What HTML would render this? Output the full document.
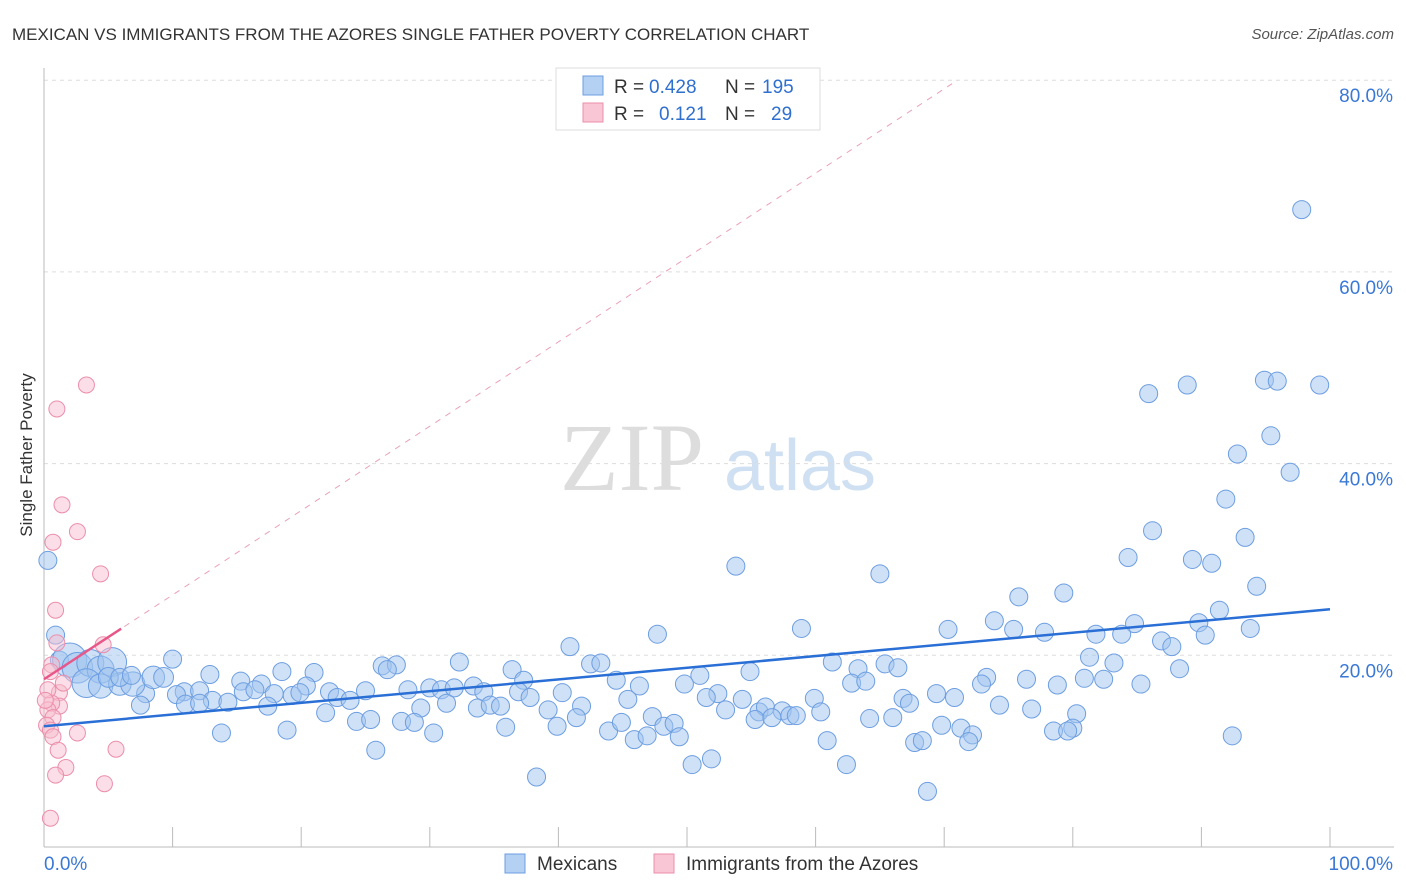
<!DOCTYPE html>
<html><head><meta charset="utf-8"><style>
body{margin:0;background:#fff;font-family:"Liberation Sans",sans-serif}
svg{display:block}
</style></head><body>
<svg id="chart" width="1406" height="892" xmlns="http://www.w3.org/2000/svg">
<text x="12" y="40" font-size="17" fill="#333">MEXICAN VS IMMIGRANTS FROM THE AZORES SINGLE FATHER POVERTY CORRELATION CHART</text>
<text x="1394" y="39" font-size="15" fill="#555" font-style="italic" text-anchor="end">Source: ZipAtlas.com</text>
<text x="32" y="455" font-size="17" fill="#333" text-anchor="middle" transform="rotate(-90 32 455)">Single Father Poverty</text>
<g>
<text x="632" y="490" font-size="96" fill="#ddd" font-family="Liberation Serif,serif" text-anchor="middle">ZIP</text>
<text x="800" y="490" font-size="72" fill="#cfe0f3" text-anchor="middle">atlas</text>
</g>
<g id="grid"></g>
<g id="pts"></g>
<g id="lines"></g>
<g>
<rect x="556" y="68" width="264" height="62" fill="#fff" stroke="#ddd"/>
<rect x="583" y="76" width="20" height="19" fill="#b4d0f3" stroke="#6d9ee0"/>
<rect x="583" y="103" width="20" height="19" fill="#f8c6d4" stroke="#ec8eab"/>
<text x="614" y="93" font-size="19" fill="#333">R =</text>
<text x="649" y="93" font-size="19" fill="#2f6fd0">0.428</text>
<text x="725" y="93" font-size="19" fill="#333">N =</text>
<text x="762" y="93" font-size="19" fill="#2f6fd0">195</text>
<text x="614" y="120" font-size="19" fill="#333">R =</text>
<text x="659" y="120" font-size="19" fill="#2f6fd0">0.121</text>
<text x="725" y="120" font-size="19" fill="#333">N =</text>
<text x="771" y="120" font-size="19" fill="#2f6fd0">29</text>
</g>
<g>
<rect x="505" y="854" width="20" height="19" fill="#b4d0f3" stroke="#6d9ee0"/>
<text x="537" y="870" font-size="19" fill="#333">Mexicans</text>
<rect x="654" y="854" width="20" height="19" fill="#f8c6d4" stroke="#ec8eab"/>
<text x="686" y="870" font-size="19" fill="#333">Immigrants from the Azores</text>
</g>
</svg>
<script>
const blueX=[97.8,85.9,88.9,94.9,95.9,99.2,95.4,92.8,96.9,91.9,93.4,86.2,84.3,89.3,90.8,94.3,65.0,53.8,79.3,75.8,91.4,73.9,70.3,84.8,89.8,93.8,58.9,47.7,77.8,81.8,83.8,75.4,86.9,87.7,90.3,40.9,81.3,83.2,88.3,61.3,63.3,65.4,66.4,32.3,26.3,27.4,26.7,42.5,43.3,36.4,10.0,12.9,18.5,21.0,37.3,44.5,51.0,54.9,76.4,80.9,82.4,73.3,72.9,62.8,63.9,78.8,85.3,46.3,49.8,20.4,15.3,16.9,28.3,30.0,30.9,31.9,33.4,34.2,36.9,37.8,40.3,45.4,52.4,54.3,51.5,59.9,66.8,69.4,70.8,15.5,16.4,17.9,19.3,19.9,22.2,22.8,23.8,25.0,10.9,12.1,10.3,13.1,14.3,11.0,12.1,7.9,7.5,17.4,21.9,29.3,31.3,33.7,34.7,35.5,39.2,41.8,53.0,55.6,56.1,57.4,58.0,58.5,60.4,67.3,74.3,76.8,80.3,80.0,13.8,18.9,24.3,25.4,27.8,28.8,35.9,39.9,41.4,43.9,44.9,47.3,48.2,49.0,55.3,56.6,64.2,66.0,69.8,71.3,72.2,78.5,79.6,92.4,30.3,45.9,46.9,49.4,60.9,67.7,68.3,71.9,25.8,51.9,50.4,62.4,38.3,68.7,0.3,0.9,1.2,2.0,2.6,3.6,4.4,5.3,3.3,4.4,5.9,6.9,8.5,9.3,5.0,5.9,6.8];
const blueY=[66.5,47.3,48.2,48.7,48.6,48.2,42.9,41.0,39.1,36.3,32.3,33.0,30.2,30.0,29.6,27.2,28.5,29.3,26.5,26.1,24.7,23.6,22.7,23.3,23.4,22.8,22.8,22.2,22.4,22.2,22.2,22.7,21.5,20.9,22.1,20.9,19.8,19.2,18.6,19.3,18.6,19.1,18.7,19.3,18.9,19.0,18.5,19.1,19.2,18.5,19.6,18.0,18.3,18.2,17.4,17.4,17.9,18.3,17.5,17.6,17.5,17.7,17.0,17.1,17.3,16.9,17.0,16.8,17.0,16.8,17.3,17.0,16.4,16.6,16.4,16.6,16.8,16.2,16.2,15.6,16.1,15.4,16.0,15.4,15.6,15.5,15.5,16.0,15.6,16.2,16.4,16.0,15.8,16.1,16.2,15.6,15.3,16.3,16.2,16.3,15.9,15.3,15.1,14.9,15.0,16.0,14.8,14.7,14.0,14.5,15.0,14.5,14.8,14.7,14.3,14.7,14.3,14.1,14.6,14.2,13.7,13.7,14.1,15.0,14.8,14.4,13.9,12.4,11.9,12.2,13.1,13.3,13.1,13.0,12.5,12.6,13.5,12.1,13.0,13.6,12.6,12.9,13.3,13.5,13.4,13.5,12.7,12.4,11.7,12.1,12.1,11.6,11.9,11.2,11.6,11.5,11.1,10.9,11.1,11.0,10.1,9.2,8.6,8.6,7.3,5.8,29.9,22.1,19.5,19.5,18.7,19.2,18.5,19.3,17.1,16.8,17.0,17.0,17.7,17.7,17.7,17.7,17.9];
const bigIdx=[169,170,171,172,173,174,175,176,177,178,179,180];
const bigSize=[1.9,1.7,1.5,1.5,1.6,1.6,1.35,1.25,1.35,1.25,1.1,1.1];
const pinkX=[3.3,1.0,1.4,2.6,0.7,4.4,0.9,4.6,1.0,0.6,0.5,1.2,1.2,0.6,0.3,0.7,0.2,0.5,2.6,0.7,1.1,5.6,1.7,0.9,4.7,0.5,0.3,0.1,1.5];
const pinkY=[48.2,45.7,35.7,32.9,31.8,28.5,24.7,21.1,21.3,19.0,18.3,16.1,14.7,15.0,14.3,13.5,12.7,12.2,11.9,11.5,10.1,10.2,8.3,7.5,6.6,3.0,16.4,15.3,17.1];
const blueTrend=[12.6,24.8];
const pinkTrend=[17.5,0.88];
const yTicks=[20,40,60,80];
const yTickLabels=["20.0%","40.0%","60.0%","80.0%"];
const xTickLabels=["0.0%","100.0%"];
const X0=44,X1=1330,Y0=847,YS=9.585;
const sx=v=>X0+(X1-X0)*v/100, sy=v=>Y0-v*YS;
const NS="http://www.w3.org/2000/svg";
function mk(parent,tag,attrs){const e=document.createElementNS(NS,tag);for(const k in attrs)e.setAttribute(k,attrs[k]);document.getElementById(parent).appendChild(e);return e;}
const blueSize=blueX.map(()=>1);
bigIdx.forEach((k,i)=>{blueSize[k]=bigSize[i];});
yTicks.forEach((t,i)=>{
 const l=mk('grid','line',{x1:44,x2:1394,y1:sy(t),y2:sy(t),stroke:'#ddd','stroke-dasharray':'4 4'});
 
 
 const tx=mk('grid','text',{x:1393,y:sy(t)+22,'font-size':19,fill:'#3a78d6','text-anchor':'end'});
 tx.textContent=yTickLabels[i];
 
 
});
const ya=mk('grid','line',{x1:44,x2:44,y1:68,y2:847,stroke:'#bbb'});


const xa=mk('grid','line',{x1:44,x2:1394,y1:847,y2:847,stroke:'#bbb'});


for(let i=0;i<=10;i++){const t=mk('grid','line',{x1:sx(i*10),x2:sx(i*10),y1:827,y2:847,stroke:'#bbb'});
 
 }
const xl0=mk('grid','text',{x:44,y:870,'font-size':19,fill:'#3a78d6'});xl0.textContent=xTickLabels[0];


const xl1=mk('grid','text',{x:1393,y:870,'font-size':19,fill:'#3a78d6','text-anchor':'end'});xl1.textContent=xTickLabels[1];


blueX.forEach((x,i)=>{const c=mk('pts','circle',{cx:sx(x),cy:sy(blueY[i]),r:9*blueSize[i],fill:'rgba(160,196,240,0.5)',stroke:'#6d9ee0','stroke-width':1});
 
 });
pinkX.forEach((x,i)=>{const c=mk('pts','circle',{cx:sx(x),cy:sy(pinkY[i]),r:8,fill:'rgba(248,190,208,0.5)',stroke:'#ec8eab','stroke-width':1});
 
 });
const xEnd=(80-pinkTrend[0])/pinkTrend[1];
const pd=mk('lines','line',{x1:sx(0),y1:sy(pinkTrend[0]),x2:sx(xEnd),y2:sy(80),stroke:'#eaa0b8','stroke-dasharray':'6 6','stroke-width':1});


const pt=mk('lines','line',{x1:sx(0),y1:sy(pinkTrend[0]),x2:sx(6),y2:sy(pinkTrend[0]+6*pinkTrend[1]),stroke:'#e8578a','stroke-width':2.5});


const bt=mk('lines','line',{x1:sx(0),y1:sy(blueTrend[0]),x2:sx(100),y2:sy(blueTrend[1]),stroke:'#2a6fd6','stroke-width':2.5});


</script>
</body></html>
